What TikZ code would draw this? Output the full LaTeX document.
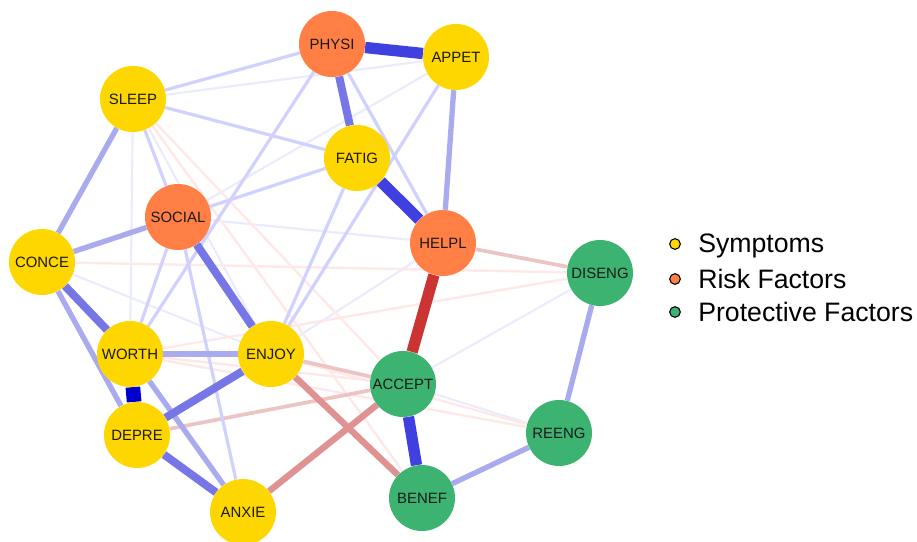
\documentclass[tikz,border=0pt]{standalone}
\usepackage{fontspec}
\setmainfont{Liberation Sans}
\usetikzlibrary{backgrounds}

\definecolor{symcol}{HTML}{FFD700}
\definecolor{riskcol}{HTML}{FF7F45}
\definecolor{protcol}{HTML}{3CB371}

\begin{document}
\begin{tikzpicture}[
    x=0.75pt, y=-0.75pt,
    var/.style={circle, minimum size=49.5pt, inner sep=0pt, font=\fontsize{11.2}{13}\selectfont, text=black!90},
    sym/.style={var, fill=symcol},
    risk/.style={var, fill=riskcol},
    prot/.style={var, fill=protcol},
    posA/.style={draw=blue!8, line width=1.6pt},
    posB/.style={draw=blue!18, line width=2.4pt},
    posC/.style={draw={rgb,255:red,170;green,170;blue,238}, line width=4pt},
    posD/.style={draw={rgb,255:red,118;green,118;blue,230}, line width=6pt},
    posE/.style={draw={rgb,255:red,64;green,64;blue,224}, line width=8.5pt},
    posF/.style={draw={rgb,255:red,0;green,0;blue,204}, line width=11pt},
    negA/.style={draw=red!9, line width=1.8pt},
    negB/.style={draw={rgb,255:red,236;green,196;blue,196}, line width=2.8pt},
    negC/.style={draw={rgb,255:red,224;green,146;blue,146}, line width=4.8pt},
    negD/.style={draw={rgb,255:red,204;green,52;blue,52}, line width=8.5pt},
    dot/.style={circle, draw=black, line width=0.8pt, minimum size=8pt, inner sep=0pt},
    legtext/.style={anchor=west, font=\fontsize{20}{24}\selectfont, inner sep=0pt},
]
\useasboundingbox (0,0) rectangle (917,542);

% Symptoms
\node[sym] (appet) at (456,57) {APPET};
\node[sym] (sleep) at (133,99) {SLEEP};
\node[sym] (fatig) at (357,158) {FATIG};
\node[sym] (conce) at (42,262) {CONCE};
\node[sym] (worth) at (130,354) {WORTH};
\node[sym] (enjoy) at (271,354) {ENJOY};
\node[sym] (depre) at (137,435) {DEPRE};
\node[sym] (anxie) at (243,512) {ANXIE};

% Risk factors
\node[risk] (physi) at (332,44) {PHYSI};
\node[risk] (social) at (178,217) {SOCIAL};
\node[risk] (helpl) at (443,243) {HELPL};

% Protective factors
\node[prot] (diseng) at (600,273) {DISENG};
\node[prot] (accept) at (403,384) {ACCEPT};
\node[prot] (reeng) at (559,433) {REENG};
\node[prot] (benef) at (422,498) {BENEF};

% Edges
\begin{pgfonlayer}{background}
% weak positive
\draw[posA] (sleep) -- (appet);
\draw[posA] (sleep) -- (worth);
\draw[posA] (sleep) -- (enjoy);
\draw[posA] (conce) -- (enjoy);
\draw[posA] (enjoy) -- (helpl);
\draw[posA] (social) -- (helpl);
\draw[posA] (accept) -- (reeng);
\draw[posA] (accept) -- (diseng);
\draw[posA] (appet) -- (social);
% weak negative
\draw[negA] (sleep) -- (accept);
\draw[negA] (sleep) -- (benef);
\draw[negA] (conce) -- (diseng);
\draw[negA] (worth) -- (diseng);
\draw[negA] (worth) -- (reeng);
\draw[negA] (worth) -- (accept);
\draw[negA] (enjoy) -- (reeng);
\draw[negB] (enjoy) -- (accept);
\draw[negB] (depre) -- (accept);
\draw[negB] (helpl) -- (diseng);
% light positive
\draw[posB] (social) -- (fatig);
\draw[posB] (enjoy) -- (fatig);
\draw[posB] (sleep) -- (fatig);
\draw[posB] (sleep) -- (physi);
\draw[posB] (sleep) -- (social);
\draw[posB] (physi) -- (worth);
\draw[posB] (worth) -- (social);
\draw[posB] (social) -- (anxie);
\draw[posB] (physi) -- (helpl);
\draw[posB] (enjoy) -- (appet);
\draw[posC] (conce) -- (depre);
\draw[posC] (worth) -- (anxie);
\draw[posC] (appet) -- (helpl);
\draw[posC] (diseng) -- (reeng);
\draw[posC] (reeng) -- (benef);
\draw[posC] (sleep) -- (conce);
\draw[posC] (conce) -- (social);
\draw[posC] (worth) -- (enjoy);
% medium
\draw[negC] (anxie) -- (accept);
\draw[negC] (enjoy) -- (benef);
\draw[posD] (physi) -- (fatig);
\draw[posD] (depre) -- (enjoy);
\draw[posD] (conce) -- (worth);
\draw[posD] (depre) -- (anxie);
\draw[posD] (social) -- (enjoy);
% strong
\draw[posE] (fatig) -- (helpl);
\draw[posE] (accept) -- (benef);
\draw[posE] (physi) -- (appet);
\draw[negD] (helpl) -- (accept);
\draw[posF] (worth) -- (depre);
\end{pgfonlayer}

% Legend
\node[dot, fill=symcol] (ksym) at (675,244) {};
\node[dot, fill=riskcol] (krisk) at (675,279) {};
\node[dot, fill=protcol] (kprot) at (675,312) {};
\node[legtext] (tsym) at (698,246) {Symptoms};
\node[legtext] (trisk) at (698,279) {Risk Factors};
\node[legtext] (tprot) at (698,312) {Protective Factors};
\end{tikzpicture}
\end{document}
